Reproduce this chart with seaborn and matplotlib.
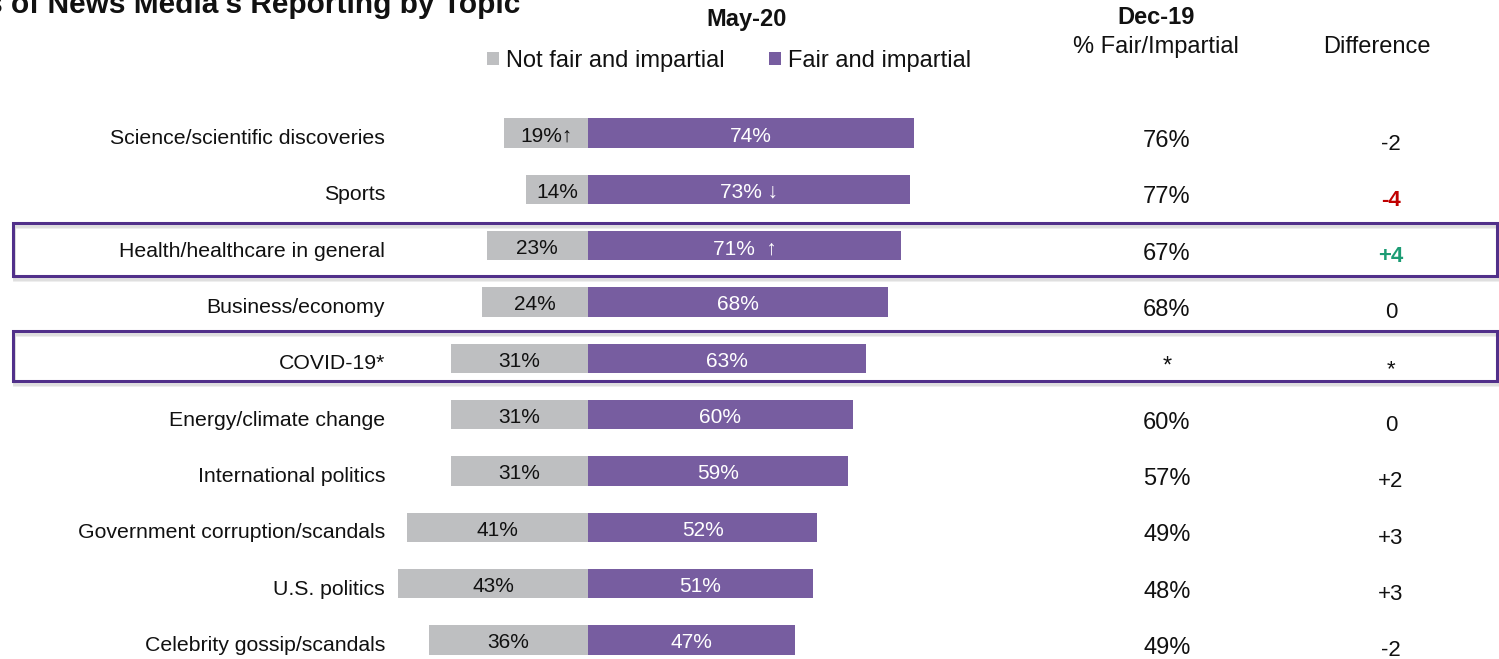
import numpy as np
import pandas as pd
import matplotlib
matplotlib.use("Agg")
import matplotlib.pyplot as plt
from matplotlib.patches import Rectangle
import seaborn as sns

# ---- data -------------------------------------------------------------
topics = [
    "Science/scientific discoveries",
    "Sports",
    "Health/healthcare in general",
    "Business/economy",
    "COVID-19*",
    "Energy/climate change",
    "International politics",
    "Government corruption/scandals",
    "U.S. politics",
    "Celebrity gossip/scandals",
]
not_fair = [19, 14, 23, 24, 31, 31, 31, 41, 43, 36]
fair = [74, 73, 71, 68, 63, 60, 59, 52, 51, 47]
not_fair_marks = ["\u2191", "", "", "", "", "", "", "", "", ""]
fair_marks = ["", " \u2193", "  \u2191", "", "", "", "", "", "", ""]
dec19_fair = [76, 77, 67, 68, None, 60, 57, 49, 48, 49]
difference = [-2, -4, 4, 0, None, 0, 2, 3, 3, -2]
highlighted = ["Health/healthcare in general", "COVID-19*"]

series_names = ["Not fair and impartial", "Fair and impartial"]
title = "Perceptions of News Media's Reporting by Topic"

# ---- styling ----------------------------------------------------------
GRAY = "#BEBFC1"
PURPLE = "#775DA0"
BOX = "#51308A"
RED = "#C00000"
GREEN = "#1C9C74"

sns.set_theme(style="white")
plt.rcParams["font.family"] = ["Liberation Sans", "DejaVu Sans"]

W, H = 1499, 659
fig = plt.figure(figsize=(W / 100, H / 100), dpi=100)
ax = fig.add_axes([0, 0, 1, 1])

# horizontal scale: zero line and pixels per percentage point
X0, PX = 588, 4.41
ROW0, ROWH = 133, 56.33


def px_y(dy):
    """vertical pixel offset -> row units"""
    return dy / ROWH


df = pd.DataFrame({"topic": topics, "not_fair": not_fair, "fair": fair})
df["not_fair_left"] = -df["not_fair"]

sns.barplot(data=df, y="topic", x="not_fair_left", orient="h", color=GRAY,
            saturation=1, width=0.52, linewidth=0, errorbar=None,
            label=series_names[0], ax=ax)
sns.barplot(data=df, y="topic", x="fair", orient="h", color=PURPLE,
            saturation=1, width=0.52, linewidth=0, errorbar=None,
            label=series_names[1], ax=ax)

ax.set_xlim(-X0 / PX, (W - X0) / PX)
ax.set_ylim((H - ROW0) / ROWH, -ROW0 / ROWH)
ax.axis("off")

col_label_x = (385 - X0) / PX
col_dec_x = (1167 - X0) / PX
col_diff_x = (1391 - X0) / PX

for i, topic in enumerate(topics):
    ax.text(col_label_x, i + px_y(11), topic, ha="right", va="baseline",
            fontsize=15.3, color="#111111")
    nf, f = not_fair[i], fair[i]
    ax.text(-nf / 2, i + px_y(8.5), f"{nf}%{not_fair_marks[i]}",
            ha="center", va="baseline", fontsize=15, color="#111111")
    ax.text(f / 2, i + px_y(8.5), f"{f}%{fair_marks[i]}",
            ha="center", va="baseline", fontsize=15, color="white")

    dv = dec19_fair[i]
    ax.text(col_dec_x, i + px_y(14), "*" if dv is None else f"{dv}%",
            ha="center", va="baseline", fontsize=17, color="#111111")

    d = difference[i]
    if d is None:
        txt, col, wt = "*", "#111111", "normal"
    else:
        txt = f"{d:+d}" if d != 0 else "0"
        col, wt = "#111111", "normal"
        if d <= -4:
            col, wt = RED, "bold"
        elif d >= 4:
            col, wt = GREEN, "bold"
    ax.text(col_diff_x, i + px_y(16.5), txt, ha="center", va="baseline",
            fontsize=16, color=col, fontweight=wt)

# outlined rows, with a soft drop shadow
box_left = (13 - X0) / PX
box_right = (1497 - X0) / PX
box_pad = {"Health/healthcare in general": (-23, 30.5), "COVID-19*": (-27, 22.5)}
for name in highlighted:
    i = topics.index(name)
    top, bot = box_pad[name]
    y0 = i + px_y(top)
    hgt = px_y(bot - top)
    for off, shade in [(4, "#ececec"), (3, "#dedede")]:
        ax.add_patch(Rectangle((box_left + 1 / PX, y0 + px_y(off)),
                               box_right - box_left, hgt, fill=False,
                               edgecolor=shade, linewidth=2.0, zorder=4,
                               clip_on=False))
    ax.add_patch(Rectangle((box_left, y0), box_right - box_left, hgt,
                           fill=False, edgecolor=BOX, linewidth=2.2,
                           zorder=5, clip_on=False))


def fx(x):
    return x / W


def fy(y):
    return 1 - y / H


# headers
fig.text(fx(520), fy(13), title, ha="right", va="baseline", fontsize=21.5,
         fontweight="bold", color="#111111")
fig.text(fx(747), fy(26), "May-20", ha="center", va="baseline", fontsize=17,
         fontweight="bold", color="#111111")
fig.text(fx(1156), fy(24), "Dec-19", ha="center", va="baseline", fontsize=17,
         fontweight="bold", color="#111111")
fig.text(fx(1156), fy(53), "% Fair/Impartial", ha="center", va="baseline",
         fontsize=17, color="#111111")
fig.text(fx(1377), fy(53), "Difference", ha="center", va="baseline",
         fontsize=17, color="#111111")

leg = ax.legend(loc="center left", bbox_to_anchor=(fx(487), fy(61)),
                bbox_transform=fig.transFigure, ncol=2, frameon=False,
                fontsize=17, handlelength=0.5, handleheight=0.5,
                handletextpad=0.3, columnspacing=1.9, borderpad=0,
                borderaxespad=0)
for t in leg.get_texts():
    t.set_color("#111111")

fig.savefig("out.png", dpi=100)
